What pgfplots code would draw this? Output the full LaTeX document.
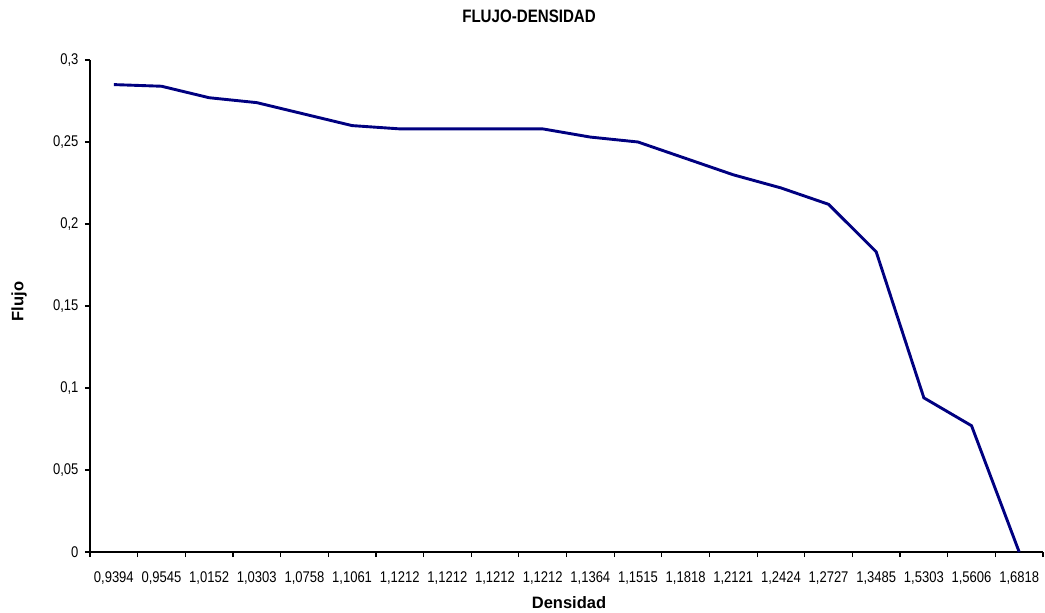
\documentclass[border=0pt]{standalone}
\usepackage{pgfplots}
\pgfplotsset{compat=1.18}
\usepackage{fontspec}
\setmainfont{Liberation Sans}
\newfontfamily\narrowfont{Liberation Sans}[FakeStretch=0.84]
\definecolor{serie}{RGB}{0,0,128}

\begin{document}
\begin{tikzpicture}
\begin{axis}[
  scale only axis,
  width=953bp, height=492bp,
  xmin=-0.5, xmax=19.5,
  ymin=0, ymax=0.3,
  axis lines=left,
  axis line style={black, line width=1.4bp, -},
  xtick={0,...,19},
  xticklabels={{0,9394},{0,9545},{1,0152},{1,0303},{1,0758},{1,1061},{1,1212},{1,1212},{1,1212},{1,1212},
               {1,1364},{1,1515},{1,1818},{1,2121},{1,2424},{1,2727},{1,3485},{1,5303},{1,5606},{1,6818}},
  major x tick style={draw=none},
  minor xtick={-0.5,0.5,...,19.5},
  minor x tick style={black, line width=1.2bp},
  ytick={0,0.05,0.1,0.15,0.2,0.25,0.3},
  yticklabels={0,{0,05},{0,1},{0,15},{0,2},{0,25},{0,3}},
  y tick style={black, line width=1.2bp},
  tick align=outside,
  major tick length=5bp,
  minor tick length=5bp,
  ticklabel style={font=\narrowfont\fontsize{15.5bp}{18bp}\selectfont},
  xticklabel style={yshift=-11bp},
  yticklabel style={xshift=-3bp},
  title={FLUJO-DENSIDAD},
  title style={font=\narrowfont\bfseries\fontsize{18bp}{21bp}\selectfont,
               at={(axis description cs:0.4607,1.077)}, anchor=center},
  xlabel={Densidad},
  xlabel style={font=\bfseries\fontsize{16.5bp}{19bp}\selectfont,
                at={(axis description cs:0.5026,-0.1037)}, anchor=center},
  ylabel={Flujo},
  ylabel style={font=\bfseries\fontsize{16.5bp}{19bp}\selectfont,
                at={(axis description cs:-0.0745,0.509)}, anchor=center},
  clip=false,
]
\addplot[serie, line width=2.9bp, mark=none] coordinates {
  (0,0.285) (1,0.284) (2,0.277) (3,0.274) (4,0.267)
  (5,0.260) (6,0.258) (7,0.258) (8,0.258) (9,0.258)
  (10,0.253) (11,0.250) (12,0.240) (13,0.230) (14,0.222)
  (15,0.212) (16,0.183) (17,0.094) (18,0.077) (19,0)
};
\end{axis}
\pgfresetboundingbox
\path[use as bounding box] ([xshift=-90bp,yshift=-61bp]current axis.south west) rectangle ++(1045bp,613bp);
\end{tikzpicture}
\end{document}
